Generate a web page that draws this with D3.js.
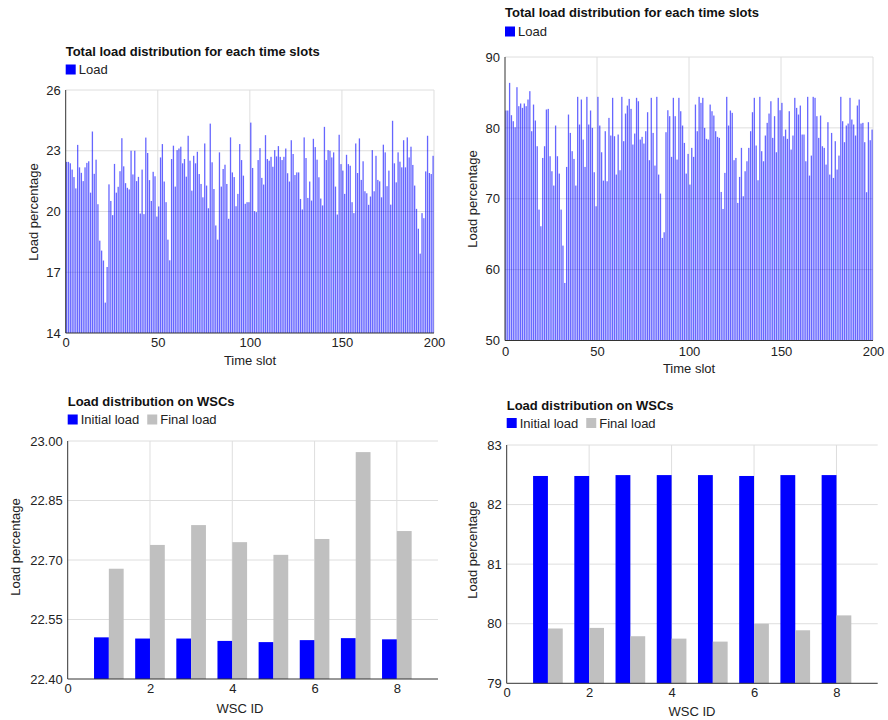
<!DOCTYPE html>
<html>
<head>
<meta charset="utf-8">
<script src="https://cdn.jsdelivr.net/npm/d3@7"></script>
<style>
body { margin: 0; background: #fff; }
svg { font-family: Arial, "Liberation Sans", sans-serif; }
.grid line { stroke: #dedede; stroke-width: 1; }
.axis text { font-size: 13px; fill: #222; }
.axis-line { stroke: #333; stroke-width: 1; }
</style>
</head>
<body>
<svg id="chart" width="888" height="720"></svg>
<script>
// ---- data ----
// total load for each of the 200 time slots (left run, ~22% load)
const loadLow = [
  22.45,22.45,22.38,22.07,21.70,21.14,23.29,22.18,21.91,21.50,22.18,22.40,22.48,20.93,23.95,21.86,22.56,20.36,18.56,18.07,
  17.58,15.50,17.26,21.34,20.52,19.82,22.35,20.93,21.22,21.99,23.62,22.23,21.40,21.17,21.09,23.00,21.83,23.00,21.50,21.71,
  19.90,22.07,19.87,23.65,22.89,21.55,20.52,21.96,21.74,
  19.75,20.25,22.67,23.33,21.48,20.46,18.61,17.59,22.59,23.25,21.23,23.03,23.11,23.20,22.38,22.59,21.72,23.74,22.51,21.03,
  22.75,22.38,22.95,21.85,21.36,20.70,23.36,21.28,20.16,24.34,22.43,21.11,19.31,18.61,22.92,21.23,22.10,22.31,21.36,19.64,
  23.66,21.93,21.70,20.26,20.87,23.33,22.54,21.77,20.38,20.46,20.46,24.39,
  22.15,20.02,19.97,22.54,23.13,21.66,21.33,23.77,22.59,22.51,22.70,22.21,23.03,22.72,23.23,22.70,22.54,22.70,23.11,21.89,
  21.48,23.52,22.84,21.80,21.93,21.93,20.62,20.10,23.66,22.64,20.67,21.48,20.54,23.59,23.18,22.56,21.69,20.64,20.30,24.18,
  22.54,23.03,23.00,22.67,22.92,21.23,19.85,23.79,22.34,22.02,20.87,22.80,
  22.34,22.26,20.46,19.92,23.36,21.90,23.61,21.56,22.48,21.00,20.90,20.33,20.74,23.03,21.00,22.75,21.56,21.49,20.70,23.30,
  22.92,21.25,22.02,20.34,24.48,22.38,21.44,22.92,22.46,22.18,23.52,22.18,23.66,22.67,23.20,22.30,21.28,20.13,19.15,17.92,
  19.92,19.67,21.98,23.74,21.90,21.85,22.75
];

// total load for each of the 200 time slots (right run, ~80% load)
const loadHigh = [
  82.45,82.45,86.35,81.79,80.94,80.09,85.74,83.06,83.44,82.82,83.44,83.06,84.00,85.18,79.53,83.29,81.04,77.41,68.47,66.12,
  75.76,77.41,82.59,82.68,76.00,73.88,71.86,80.33,76.00,73.55,68.47,63.39,58.12,74.49,81.88,79.29,76.71,75.62,71.86,84.38,
  80.47,84.00,78.35,74.49,84.38,80.47,82.45,80.00,73.74,
  68.94,84.38,80.33,76.56,72.56,79.53,72.47,81.41,78.92,84.24,78.82,73.41,79.06,74.02,84.38,78.12,82.02,83.15,84.09,82.68,
  77.65,79.20,84.24,83.76,78.35,78.73,77.79,79.53,82.21,75.44,84.24,79.29,74.68,84.38,73.41,70.73,64.47,65.27,79.39,82.49,
  81.65,75.91,84.24,81.65,75.53,84.24,82.35,80.33,77.88,73.55,
  76.33,72.00,77.18,75.91,83.29,79.53,84.38,83.53,84.24,80.00,78.45,78.35,83.29,82.35,81.74,79.53,78.73,78.59,70.96,68.56,
  73.65,84.38,80.33,82.45,82.12,75.44,75.76,69.41,73.08,77.18,70.35,73.88,75.29,77.18,79.53,82.21,84.24,77.51,72.61,84.38,
  76.71,75.29,78.92,80.71,82.02,83.76,78.59,81.65,76.56,84.24,82.49,
  83.53,78.82,79.76,78.45,82.35,76.94,78.92,84.24,82.82,81.88,83.15,79.06,79.06,75.29,84.38,73.27,76.09,84.38,84.24,81.65,
  78.59,81.74,77.41,77.18,74.82,80.80,73.41,79.29,72.94,78.12,74.12,76.09,84.38,80.94,77.98,80.33,80.61,84.24,81.18,80.47,
  78.92,83.15,84.00,80.61,80.71,77.98,70.92,80.80,78.26,79.76
];

const wscIds = [1, 2, 3, 4, 5, 6, 7, 8];
const initialLow  = [22.505, 22.502, 22.502, 22.496, 22.493, 22.498, 22.503, 22.500];
const finalLow    = [22.678, 22.738, 22.788, 22.745, 22.713, 22.753, 22.972, 22.773];
const initialHigh = [82.48, 82.48, 82.495, 82.495, 82.495, 82.48, 82.495, 82.495];
const finalHigh   = [79.92, 79.93, 79.79, 79.75, 79.70, 80.00, 79.89, 80.14];

const slotTicks = [0, 50, 100, 150, 200];
const wscTicks = [0, 2, 4, 6, 8];
const lowSlotYTicks = [14, 17, 20, 23, 26];
const highSlotYTicks = [50, 60, 70, 80, 90];
const lowWscYTicks = [22.40, 22.55, 22.70, 22.85, 23.00];
const highWscYTicks = [79, 80, 81, 82, 83];

const BLUE = '#0000ff';
const GREY = '#c0c0c0';

class LoadChart {
    constructor(_config) {
        this.config = _config;
        this.initVis();
    }

    initVis() {
        let vis = this;
        const c = vis.config;

        vis.svg = d3.select('#chart');
        vis.g = vis.svg.append('g')
            .attr('transform', `translate(${c.left},${c.top})`);

        vis.xScale = d3.scaleLinear().domain(c.xDomain).range([0, c.width]);
        vis.yScale = d3.scaleLinear().domain(c.yDomain).range([c.height, 0]);

        // gridlines
        vis.g.append('g')
            .attr('class', 'grid')
            .selectAll('line')
            .data(c.yTicks.slice(1))
            .join('line')
            .attr('x1', 0).attr('x2', c.width)
            .attr('y1', d => vis.yScale(d)).attr('y2', d => vis.yScale(d));

        vis.g.append('g')
            .attr('class', 'grid')
            .selectAll('line')
            .data(c.xTicks.slice(1))
            .join('line')
            .attr('x1', d => vis.xScale(d)).attr('x2', d => vis.xScale(d))
            .attr('y1', 0).attr('y2', c.height);

        // axes (labels only, lines drawn below)
        vis.xAxis = d3.axisBottom(vis.xScale)
            .tickValues(c.xTicks)
            .tickSize(0)
            .tickPadding(c.xPad);
        vis.yAxis = d3.axisLeft(vis.yScale)
            .tickValues(c.yTicks)
            .tickSize(0)
            .tickPadding(5)
            .tickFormat(c.yFormat);

        vis.g.append('g')
            .attr('class', 'axis x-axis')
            .attr('transform', `translate(0,${c.height})`)
            .call(vis.xAxis)
            .call(g => g.select('.domain').remove());

        vis.g.append('g')
            .attr('class', 'axis y-axis')
            .call(vis.yAxis)
            .call(g => g.select('.domain').remove());

        // title + legend
        vis.svg.append('text')
            .attr('x', c.left)
            .attr('y', c.titleY)
            .style('font-size', '13px')
            .style('font-weight', 'bold')
            .attr('fill', '#111')
            .text(c.title);

        let lx = c.left;
        c.legend.forEach(item => {
            vis.svg.append('rect')
                .attr('x', lx).attr('y', c.legendY)
                .attr('width', 10).attr('height', 10)
                .attr('fill', item.color);
            const t = vis.svg.append('text')
                .attr('x', lx + 13)
                .attr('y', c.legendY + 9.5)
                .style('font-size', '13px')
                .attr('fill', '#222')
                .text(item.label);
            lx += 13 + t.node().getComputedTextLength() + 8;
        });

        // axis titles
        vis.svg.append('text')
            .attr('x', c.xLabel[0])
            .attr('y', c.xLabel[1])
            .attr('text-anchor', 'middle')
            .style('font-size', '13px')
            .attr('fill', '#222')
            .text(c.xTitle);

        vis.svg.append('text')
            .attr('transform', `translate(${c.yLabel[0]},${c.yLabel[1]}) rotate(-90)`)
            .attr('text-anchor', 'middle')
            .style('font-size', '13px')
            .attr('fill', '#222')
            .text('Load percentage');
    }

    renderSlots(values) {
        let vis = this;
        const y0 = vis.yScale(vis.config.yDomain[0]);

        vis.g.append('g')
            .selectAll('rect')
            .data(values)
            .join('rect')
            .attr('x', (d, i) => vis.xScale(i + 0.5) - 0.65)
            .attr('width', 1.3)
            .attr('y', d => vis.yScale(d))
            .attr('height', d => y0 - vis.yScale(d))
            .attr('fill', BLUE)
            .attr('fill-opacity', 0.6);

        vis.drawAxisLines();
    }

    renderWsc(ids, initial, final) {
        let vis = this;
        const y0 = vis.yScale(vis.config.yDomain[0]);
        const bw = vis.xScale(0.36) - vis.xScale(0);

        const series = [
            {values: initial, color: BLUE, shift: -bw},
            {values: final, color: GREY, shift: 0}
        ];

        series.forEach(s => {
            vis.g.append('g')
                .selectAll('rect')
                .data(ids)
                .join('rect')
                .attr('x', (d, i) => vis.xScale(d) + s.shift)
                .attr('width', bw)
                .attr('y', (d, i) => vis.yScale(s.values[i]))
                .attr('height', (d, i) => y0 - vis.yScale(s.values[i]))
                .attr('fill', s.color);
        });

        vis.drawAxisLines();
    }

    drawAxisLines() {
        let vis = this;
        const c = vis.config;
        vis.g.append('line')
            .attr('class', 'axis-line')
            .attr('x1', 0).attr('x2', 0)
            .attr('y1', 0).attr('y2', c.height);
        vis.g.append('line')
            .attr('class', 'axis-line')
            .attr('x1', 0).attr('x2', c.width)
            .attr('y1', c.height).attr('y2', c.height);
    }
}

const slotLegend = [{label: 'Load', color: BLUE}];
const wscLegend = [{label: 'Initial load', color: BLUE}, {label: 'Final load', color: GREY}];

const topLeft = new LoadChart({
    left: 65.7, top: 90, width: 368.3, height: 243,
    xDomain: [0, 200], xTicks: slotTicks, xPad: 5,
    yDomain: [14, 26], yTicks: lowSlotYTicks, yFormat: d3.format('d'),
    title: 'Total load distribution for each time slots',
    titleY: 56, legendY: 64.5, legend: slotLegend,
    xTitle: 'Time slot', xLabel: [250, 364.5], yLabel: [38, 212]
});
topLeft.renderSlots(loadLow);

const topRight = new LoadChart({
    left: 505, top: 57, width: 368, height: 283.5,
    xDomain: [0, 200], xTicks: slotTicks, xPad: 6,
    yDomain: [50, 90], yTicks: highSlotYTicks, yFormat: d3.format('d'),
    title: 'Total load distribution for each time slots',
    titleY: 17, legendY: 26.5, legend: slotLegend,
    xTitle: 'Time slot', xLabel: [689, 372.5], yLabel: [477, 199]
});
topRight.renderSlots(loadHigh);

const bottomLeft = new LoadChart({
    left: 67.7, top: 441, width: 370.3, height: 238,
    xDomain: [0, 9], xTicks: wscTicks, xPad: 4.5,
    yDomain: [22.40, 23.00], yTicks: lowWscYTicks, yFormat: d3.format('.2f'),
    title: 'Load distribution on WSCs',
    titleY: 406, legendY: 414.5, legend: wscLegend,
    xTitle: 'WSC ID', xLabel: [240, 712.5], yLabel: [20, 547]
});
bottomLeft.renderWsc(wscIds, initialLow, finalLow);

const bottomRight = new LoadChart({
    left: 506.7, top: 445, width: 371, height: 238.3,
    xDomain: [0, 9], xTicks: wscTicks, xPad: 4.5,
    yDomain: [79, 83], yTicks: highWscYTicks, yFormat: d3.format('d'),
    title: 'Load distribution on WSCs',
    titleY: 410, legendY: 418, legend: wscLegend,
    xTitle: 'WSC ID', xLabel: [692, 716], yLabel: [477, 550]
});
bottomRight.renderWsc(wscIds, initialHigh, finalHigh);
</script>
</body>
</html>
